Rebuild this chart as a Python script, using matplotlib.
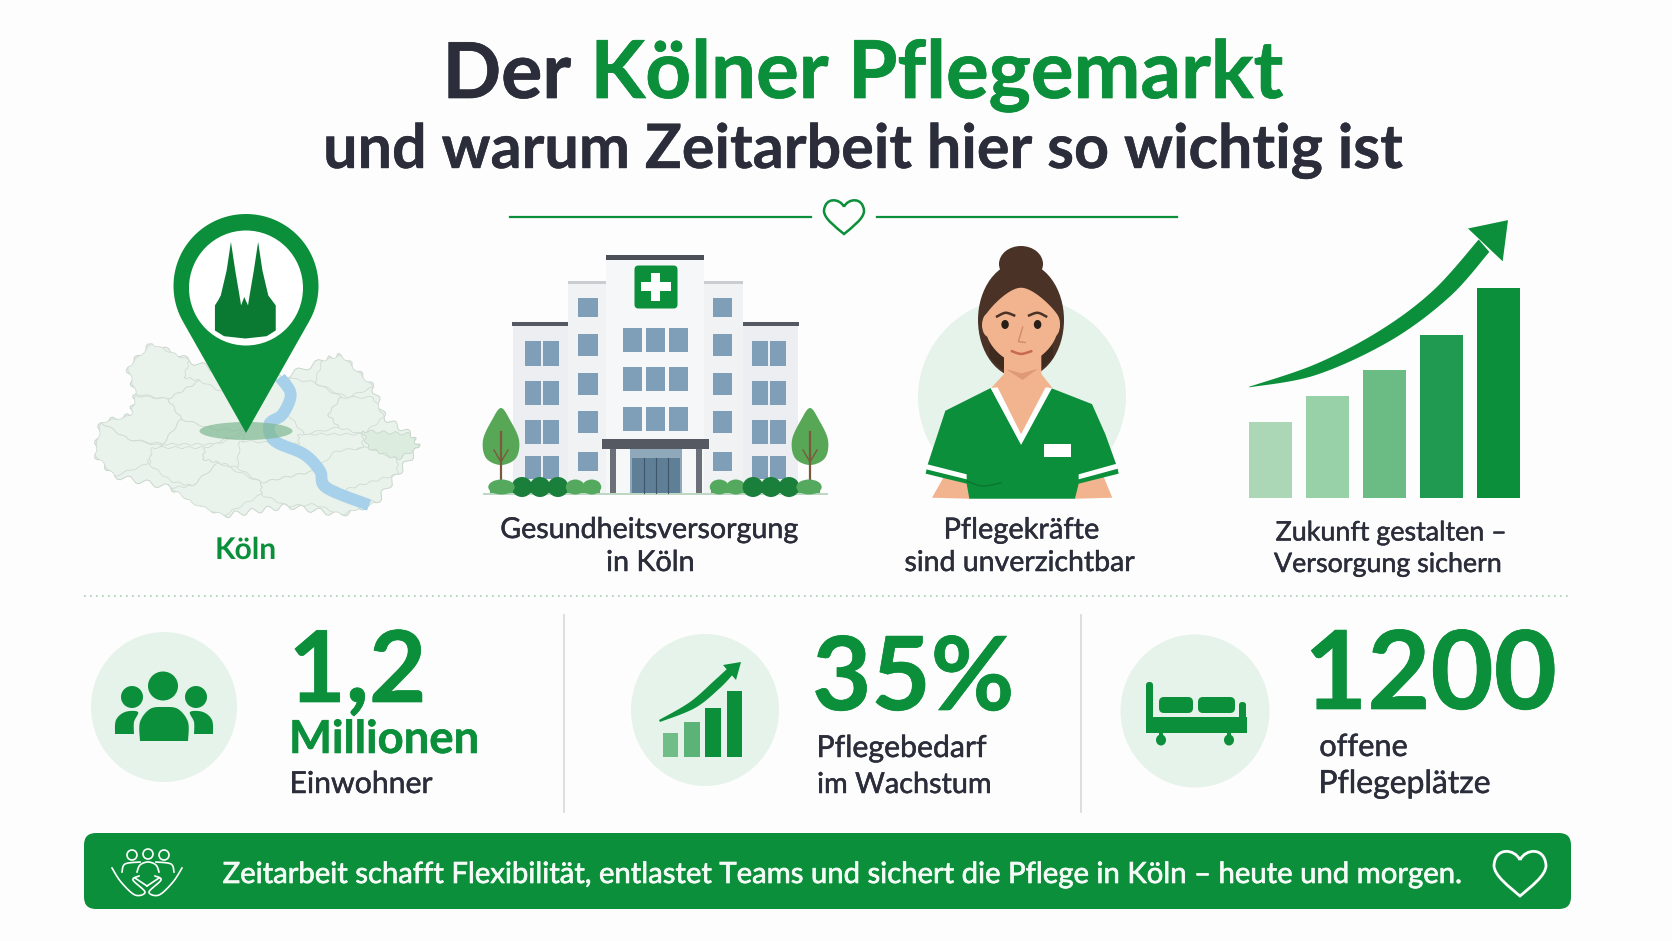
import numpy as np
import matplotlib
matplotlib.use("Agg")
from matplotlib import pyplot as plt
from matplotlib import patheffects as pe
from matplotlib.patches import Polygon, Ellipse, Rectangle, FancyBboxPatch, PathPatch, Circle
from matplotlib.path import Path
from matplotlib.textpath import TextPath
from matplotlib.font_manager import FontProperties

plt.rcParams["text.hinting"] = "no_hinting"
plt.rcParams["text.hinting_factor"] = 1

# chart values
growth_bars = [76, 102, 128, 163, 210]
growth_colors = ["#acd7b6", "#98d0a8", "#6bbb85", "#1f9a50", "#0b8f3a"]
small_bars = [24, 35, 49, 66]
small_colors = ["#70bd88", "#5cb378", "#0b8f3a", "#0b8f3a"]
stat_numbers = ["1,2", "35%", "1200"]
stat_labels = [["Einwohner"], ["Pflegebedarf", "im Wachstum"], ["offene", "Pflegeplätze"]]
icon_labels = [["Gesundheitsversorgung", "in Köln"], ["Pflegekräfte", "sind unverzichtbar"],
               ["Zukunft gestalten –", "Versorgung sichern"]]
banner_text = "Zeitarbeit schafft Flexibilität, entlastet Teams und sichert die Pflege in Köln – heute und morgen."

GREEN = "#0b8f3a"
DARK = "#2b2e3a"
PALE = "#e6f3ea"
FAM = "Lato"

W, H = 1672, 941
fig = plt.figure(figsize=(W / 100, H / 100), dpi=100, facecolor="#fdfdfd")
ax = fig.add_axes([0, 0, 1, 1])
ax.set_xlim(0, W)
ax.set_ylim(H, 0)
ax.axis("off")


def zl(pts):
    # upper left crop -> picture pixels
    return [(x / 1.875, 180 + y / 2.99) for x, y in pts]


def zr(pts):
    # upper right crop -> picture pixels
    return [(836 + x / 1.875, 180 + y / 2.99) for x, y in pts]


def poly(pts, color, z=3, **kw):
    p = Polygon(pts, closed=True, facecolor=color, edgecolor=kw.pop("edge", "none"), zorder=z, **kw)
    ax.add_patch(p)
    return p


def rect(x0, y0, x1, y1, color, z=3):
    ax.add_patch(Rectangle((x0, y0), x1 - x0, y1 - y0, facecolor=color, edgecolor="none", zorder=z))


def ell(x, y, w, h, color, z=3, **kw):
    ax.add_patch(Ellipse((x, y), w, h, facecolor=color, edgecolor="none", zorder=z, **kw))


def spline(pts, closed=False, n=14):
    p = np.array(pts, float)
    if closed:
        p = np.vstack([p[-1], p, p[0], p[1]])
    else:
        p = np.vstack([p[0], p, p[-1]])
    out = []
    for i in range(1, len(p) - 2):
        for t in np.linspace(0, 1, n, endpoint=False):
            out.append(0.5 * (2 * p[i] + (p[i + 1] - p[i - 1]) * t
                              + (2 * p[i - 1] - 5 * p[i] + 4 * p[i + 1] - p[i + 2]) * t ** 2
                              + (3 * p[i] - p[i - 1] - 3 * p[i + 1] + p[i + 2]) * t ** 3))
    if not closed:
        out.append(p[-1])
    return np.array(out)


def wavy(pts, amp=1.5, step=9):
    # district outline with small scallops
    out = []
    p = np.array(pts, float)
    for a, b in zip(p, np.roll(p, -1, axis=0)):
        d = b - a
        ln = np.hypot(*d)
        nrm = np.array([-d[1], d[0]]) / max(ln, 1)
        k = max(2, int(ln / step))
        for t in np.linspace(0, 1, k * 6, endpoint=False):
            out.append(a + d * t + nrm * amp * np.sin(2 * np.pi * k * t))
    return out


def heart(cx, top, w, h, edge, lw, z=6):
    v = [(0, 0.2), (-0.2, -0.05), (-0.95, -0.1), (-1, 0.32), (-1, 0.55), (-0.4, 0.8), (0, 1),
         (0.4, 0.8), (1, 0.55), (1, 0.32), (0.95, -0.1), (0.2, -0.05), (0, 0.2)]
    v = [(cx + x * w / 2, top + y * h) for x, y in v]
    c = [Path.MOVETO] + [Path.CURVE4] * 12
    ax.add_patch(PathPatch(Path(v, c), facecolor="none", edgecolor=edge, lw=lw, zorder=z))


def fit(s, x0, x1, base, color=DARK, weight="normal", bold=0.0):
    # font size chosen so the string spans x0..x1 in pixels
    fp = FontProperties(family=FAM, weight=weight)
    ext = TextPath((0, 0), s, size=100, prop=fp).get_extents()
    size = 100 * (x1 - x0) * 0.72 / ext.width
    left = x0 - 0.55 * ext.x0 * size / 100 / 0.72
    t = ax.text(left, base, s, fontproperties=fp, fontsize=size, color=color, ha="left", va="baseline", zorder=8)
    if bold:
        t.set_path_effects([pe.withStroke(linewidth=bold, foreground=color)])


# title
fit("Der", 446, 568, 98, DARK, "bold", 0.5)
fit("Kölner Pflegemarkt", 594, 1280, 98, GREEN, "bold", 0.5)
fit("und warum Zeitarbeit hier so wichtig ist", 325, 1401, 168, DARK, "bold", 0.3)
ax.plot([510, 811], [217, 217], color=GREEN, lw=1.6, zorder=3)
ax.plot([877, 1177], [217, 217], color=GREEN, lw=1.6, zorder=3)
heart(844, 200, 40, 34, GREEN, 1.8)

# map of the districts
outline = [(240, 560), (285, 490), (355, 540), (460, 600), (530, 590), (605, 540), (640, 525), (700, 620),
           (720, 710), (770, 760), (785, 800), (745, 880), (705, 965), (640, 1000), (540, 975), (420, 1003),
           (320, 920), (215, 885), (178, 820), (190, 725), (245, 705), (255, 640)]
poly(wavy(zl(outline), 3.0, 15), "#e9f3eb", z=2, edge="#c9d6cc", lw=0.7)
districts = [
    [(240, 560), (285, 490), (355, 540), (345, 590), (375, 600), (315, 655), (255, 640)],
    [(315, 655), (375, 600), (425, 640), (460, 750), (400, 745), (340, 715)],
    [(255, 645), (315, 655), (340, 715), (305, 790), (240, 775), (190, 725), (245, 705)],
    [(190, 725), (240, 775), (305, 795), (285, 820), (275, 850), (215, 885), (178, 820)],
    [(305, 790), (340, 715), (400, 745), (460, 750), (400, 790)],
    [(285, 800), (385, 800), (380, 835), (410, 845), (360, 915), (320, 900), (280, 850)],
    [(385, 800), (460, 760), (445, 860), (410, 845), (380, 835)],
    [(410, 845), (490, 905), (490, 940), (420, 1003), (360, 965), (320, 920), (360, 915)],
    [(450, 780), (560, 790), (590, 870), (490, 905), (445, 860)],
    [(490, 905), (590, 870), (640, 930), (705, 965), (640, 1000), (590, 970), (540, 975), (490, 940)],
    [(560, 760), (680, 760), (680, 800), (630, 830), (590, 870), (560, 790)],
    [(630, 810), (690, 800), (745, 835), (745, 880), (680, 910), (640, 930), (590, 870)],
    [(530, 590), (590, 605), (640, 650), (615, 700), (635, 740), (570, 760), (540, 700), (550, 640)],
    [(590, 605), (605, 540), (640, 525), (700, 620), (650, 650)],
    [(640, 650), (700, 650), (720, 710), (680, 760), (635, 740), (615, 700)],
]
for d in districts:
    poly(wavy(zl(d), 1.0, 12), "#e9f3eb", z=2, edge="#cfdbd2", lw=0.6)
poly(wavy(zl([(680, 750), (770, 760), (785, 800), (745, 835), (690, 800)]), 1.5, 10), "#dcecdf", z=2, edge="#c9d6cc", lw=0.6)
river = spline(zl([(525, 590), (545, 640), (530, 700), (505, 730), (515, 780), (570, 820), (600, 870), (612, 920), (692, 972)]))
ax.plot(river[:, 0], river[:, 1], color="#a7d0ea", lw=8.5, solid_capstyle="butt", zorder=3)
ell(246, 431, 93, 18, "#7fb893", z=4, alpha=0.7)

# location pin
ang = np.linspace(-0.163 * np.pi, 1.163 * np.pi, 80)
head = [(246 + 72.5 * np.cos(a), 286 - 72 * np.sin(a)) for a in ang]
poly(head + [(246, 433)], GREEN, z=5)
ell(246, 288, 114, 115, "white", z=6)
cath = zl([(403, 450), (403, 375), (409, 360), (414, 345), (425, 270), (433, 185), (441, 270), (449, 345), (452, 375),
           (458, 350), (465, 375), (468, 345), (476, 270), (484, 185), (492, 270), (503, 345), (510, 360), (517, 375),
           (517, 450), (500, 467), (460, 474), (420, 467)])
poly(cath, "#0a7a33", z=7)
fit("Köln", 216, 274, 559, GREEN, "bold")

# hospital
rect(513, 326, 568, 493, "#eceef1")
rect(743, 326, 798, 493, "#eceef1")
rect(568, 283, 606, 493, "#f1f2f4")
rect(704, 283, 743, 493, "#f1f2f4")
rect(606, 258, 704, 493, "#f6f7f8")
rect(606, 255, 704, 260, "#4b5058", z=4)
rect(512, 322, 568, 325.5, "#555a62", z=4)
rect(743, 322, 799, 325.5, "#555a62", z=4)
rect(568, 281, 606, 284, "#c9cdd2", z=4)
rect(704, 281, 743, 284, "#c9cdd2", z=4)
WIN = "#7f9fb9"
for y0, y1 in [(341, 366), (381, 405), (420, 444), (456, 479)]:
    for x0 in (525, 752):
        rect(x0, y0, x0 + 15.5, y1, WIN, z=4)
        rect(x0 + 18, y0, x0 + 33.5, y1, WIN, z=4)
for y0, y1 in [(298, 317), (334, 356), (373, 395), (411, 433), (452, 471)]:
    rect(578, y0, 598, y1, WIN, z=4)
    rect(713, y0, 732, y1, WIN, z=4)
for y0, y1 in [(328, 352), (367, 391), (407, 431)]:
    for x0 in (623, 646, 669):
        rect(x0, y0, x0 + 18.5, y1, WIN, z=4)
ax.add_patch(FancyBboxPatch((636, 267), 40, 40, boxstyle="round,pad=1.5,rounding_size=4", facecolor=GREEN, edgecolor="none", zorder=4))
rect(651, 273, 660, 301, "white", z=5)
rect(641, 282, 671, 291, "white", z=5)
rect(630, 449, 682, 493, "#8fa8ba", z=4)
rect(632, 458, 680, 493, "#5f7f97", z=5)
for x in (644, 656, 668):
    ax.plot([x, x], [458, 493], color="#3f566a", lw=0.8, zorder=6)
rect(602, 439, 709, 449, "#555a62", z=6)
rect(610, 449, 616, 493, "#6b7078", z=6)
rect(696, 449, 702, 493, "#6b7078", z=6)
ax.plot([484, 827], [493.5, 493.5], color="#bcd6c3", lw=1.4, zorder=3)
for cx in (501, 810):
    canopy = spline([(cx, 408), (cx + 9, 420), (cx + 18, 440), (cx + 15, 458), (cx, 465), (cx - 15, 458), (cx - 18, 440), (cx - 9, 420)], closed=True)
    poly(canopy, "#58a757", z=4)
    ax.plot([cx, cx], [432, 487], color="#7b5a3c", lw=1.6, zorder=5)
    ax.plot([cx, cx - 7], [462, 450], color="#7b5a3c", lw=1, zorder=5)
    ax.plot([cx, cx + 7], [462, 450], color="#7b5a3c", lw=1, zorder=5)
for x0, x1, c, bumps in [(513, 567, "#1a7f3a", 3), (567, 600, "#55a95f", 2), (490, 513, "#55a95f", 1),
                         (711, 744, "#55a95f", 2), (744, 798, "#1a7f3a", 3), (798, 820, "#55a95f", 1)]:
    bw = (x1 - x0) / bumps
    for i in range(bumps):
        ax.add_patch(Ellipse((x0 + bw * (i + 0.5), 487), bw * 1.15, 20 if c == "#1a7f3a" else 15, facecolor=c, edgecolor="none", zorder=7))
    rect(x0, 484 if c == "#1a7f3a" else 488, x1, 493, c, z=7)

# nurse
ax.add_patch(Ellipse((1022, 397), 208, 200, facecolor=PALE, edgecolor="none", zorder=2))
skin = "#f1b48e"
hair = "#4a3226"
ell(1021, 264, 44, 36, hair, z=3)
ell(1021, 320, 86, 116, hair, z=3)
poly(zr([(288, 480), (405, 480), (408, 530), (385, 565), (310, 565), (288, 530)]), "#3f2a20", z=3)
poly(zr([(315, 500), (385, 500), (385, 580), (405, 620), (347, 790), (292, 620), (315, 580)]), skin, z=4)
poly(zr([(318, 565), (347, 578), (378, 565), (350, 598)]), "#dd9a74", z=5)
ell(989, 325, 14, 24, skin, z=4)
ell(1053, 325, 14, 24, skin, z=4)
face = spline(zr([(282, 400), (347, 322), (414, 400), (412, 470), (385, 525), (347, 548), (310, 525), (284, 470)]), closed=True)
poly(face, skin, z=5)
ax.plot(*np.array(spline(zr([(302, 408), (318, 397), (334, 405)]))).T, color=hair, lw=1.8, zorder=6)
ax.plot(*np.array(spline(zr([(362, 405), (378, 397), (394, 408)]))).T, color=hair, lw=1.8, zorder=6)
ell(836 + 317 / 1.875, 180 + 432 / 2.99, 7.5, 9, "#2a1e18", z=6)
ell(836 + 378 / 1.875, 180 + 432 / 2.99, 7.5, 9, "#2a1e18", z=6)
ax.plot(*np.array(zr([(350, 440), (342, 483), (355, 486)])).T, color="#d08c68", lw=1, zorder=6)
ax.plot(*np.array(spline(zr([(330, 512), (347, 520), (366, 512)]))).T, color="#c9694f", lw=1.8, zorder=6)
poly(zr([(180, 950), (205, 880), (250, 900), (252, 953)]), skin, z=3)
poly(zr([(518, 950), (500, 880), (452, 900), (448, 953)]), skin, z=3)
shirt = zr([(290, 622), (347, 790), (403, 622), (480, 670), (505, 760), (528, 862), (530, 878), (455, 908), (448, 953),
            (250, 953), (245, 908), (168, 878), (172, 850), (205, 690)])
poly(shirt, "#0b8f3a", z=6)
poly(zr([(290, 622), (303, 620), (347, 760), (393, 620), (405, 622), (347, 792)]), "white", z=7)
rect(836 + 390 / 1.875, 180 + 788 / 2.99, 836 + 440 / 1.875, 180 + 827 / 2.99, "white", z=7)
poly(zr([(171, 850), (245, 880), (245, 895), (169, 865)]), "white", z=7)
poly(zr([(527, 848), (455, 880), (455, 895), (529, 863)]), "white", z=7)
ax.plot(*np.array(spline(zr([(245, 900), (275, 915), (310, 905)]))).T, color="#0a7030", lw=0.8, zorder=7)

# growth chart with arrow
arrow_top = spline(zr([(775, 618), (900, 550), (1020, 450), (1120, 330), (1205, 178)]))
arrow_bot = spline(zr([(1225, 215), (1150, 350), (1040, 480), (900, 583), (775, 620)]))
poly(np.vstack([arrow_top, arrow_bot]), GREEN, z=4)
poly(zr([(1185, 145), (1260, 120), (1250, 243)]), GREEN, z=4)
bx = fig.add_axes([1249 / W, 1 - 498 / H, (1520 - 1249) / W, 210 / H])
bx.bar(range(5), growth_bars, width=0.76, color=growth_colors)
bx.set_xlim(-0.38, 4.38)
bx.set_ylim(0, 210)
bx.axis("off")

label_spans = [[(501, 797, 538), (607, 692, 571)], [(945, 1097, 538.5), (905, 1134, 571)],
               [(1276, 1504, 540.5), (1274, 1500, 572)]]
for lines, spans in zip(icon_labels, label_spans):
    for s, (x0, x1, base) in zip(lines, spans):
        fit(s, x0, x1, base, DARK, "normal", 0.35)

ax.plot([84, 1571], [596, 596], color="#a9cfb6", lw=1.2, ls=(0, (1, 2.6)), zorder=2)

# lower row
ell(164, 707, 146, 150, PALE, z=2)
ell(705, 710, 148, 152, PALE, z=2)
ell(1195, 711, 149, 153, PALE, z=2)
ax.plot([564, 564], [615, 812], color="#d9dcda", lw=1.3, zorder=2)
ax.plot([1081, 1081], [615, 812], color="#d9dcda", lw=1.3, zorder=2)

# people icon
ell(163, 686, 30, 29, GREEN)
ell(132, 697, 22, 22, GREEN)
ell(196, 697, 22, 22, GREEN)
poly(spline([(140, 741), (140, 722), (150, 709), (164, 707), (178, 709), (188, 722), (188, 741)]), GREEN)
poly(spline([(115, 734), (116, 720), (125, 712), (138, 712), (134, 722), (134, 734)]), GREEN)
poly(spline([(213, 734), (212, 720), (203, 712), (190, 712), (194, 722), (194, 734)]), GREEN)

fit(stat_numbers[0], 292, 419, 702, GREEN, "bold", 0.5)
fit("Millionen", 291, 475, 753, GREEN, "bold", 0.4)
fit(stat_labels[0][0], 291, 431, 793, DARK, "normal", 0.35)

# small bar icon
cx = fig.add_axes([663 / W, 1 - 757 / H, 79 / W, 66 / H])
cx.bar(range(4), small_bars, width=0.72, color=small_colors)
cx.set_xlim(-0.36, 3.36)
cx.set_ylim(0, 66)
cx.axis("off")
a_top = spline([(659, 720), (690, 702), (715, 680), (728, 668)])
a_bot = spline([(735, 672), (720, 688), (695, 708), (660, 722)])
poly(np.vstack([a_top, a_bot]), GREEN)
poly([(723, 665), (741, 662), (736, 680)], GREEN)

fit(stat_numbers[1], 814, 1009, 710, GREEN, "bold", 0.5)
for s, (x1, base) in zip(stat_labels[1], [(985, 757), (989, 793)]):
    fit(s, 818, x1, base, DARK, "normal", 0.35)

# bed icon
ax.add_patch(FancyBboxPatch((1146, 682), 7, 51, boxstyle="round,pad=0,rounding_size=3", facecolor=GREEN, edgecolor="none", zorder=4))
ax.add_patch(FancyBboxPatch((1239, 702), 7, 31, boxstyle="round,pad=0,rounding_size=3", facecolor=GREEN, edgecolor="none", zorder=4))
rect(1146, 717, 1247, 733, GREEN, z=4)
ax.add_patch(FancyBboxPatch((1159, 697), 34, 16, boxstyle="round,pad=0,rounding_size=5", facecolor=GREEN, edgecolor="none", zorder=4))
ax.add_patch(FancyBboxPatch((1198, 697), 37, 16, boxstyle="round,pad=0,rounding_size=5", facecolor=GREEN, edgecolor="none", zorder=4))
rect(1159, 733, 1163, 738, GREEN)
rect(1227, 733, 1231, 738, GREEN)
ell(1161, 740, 10, 11, GREEN)
ell(1229, 740, 10, 11, GREEN)

fit(stat_numbers[2], 1308, 1551, 709, GREEN, "bold", 0.5)
for s, (x1, base) in zip(stat_labels[2], [(1406, 756), (1488, 793)]):
    fit(s, 1320, x1, base, DARK, "normal", 0.35)

# banner
ax.add_patch(FancyBboxPatch((84, 833), 1487, 76, boxstyle="round,pad=0,rounding_size=12", facecolor=GREEN, edgecolor="none", zorder=3))
fit(banner_text, 223, 1460, 883, "#f4faf5", "normal", 0.5)
heart(1520, 851, 52, 45, "white", 2)

# people and hands icon in the banner
for x, y in [(132, 855), (148, 854), (164, 855)]:
    ax.add_patch(Circle((x, y), 5, facecolor="none", edgecolor="white", lw=1.2, zorder=5))
for pts in [[(122, 872), (125, 864), (140, 862)], [(156, 862), (171, 864), (174, 872)],
            [(137, 872), (140, 865), (148, 862), (156, 865), (159, 872)]]:
    c = spline(pts)
    ax.plot(c[:, 0], c[:, 1], color="white", lw=1.2, zorder=5)
for s in (-1, 1):
    pts = [(147 + s * 35, 868), (147 + s * 26, 882), (147 + s * 12, 895), (147 + s * 2, 892), (147 + s * 14, 880), (147 + s * 8, 876)]
    c = spline(pts)
    ax.plot(c[:, 0], c[:, 1], color="white", lw=1.2, zorder=5)
    ax.plot([147, 147 + s * 12], [886, 878], color="white", lw=1.2, zorder=5)

fig.savefig("out.png", dpi=100, facecolor=fig.get_facecolor())
